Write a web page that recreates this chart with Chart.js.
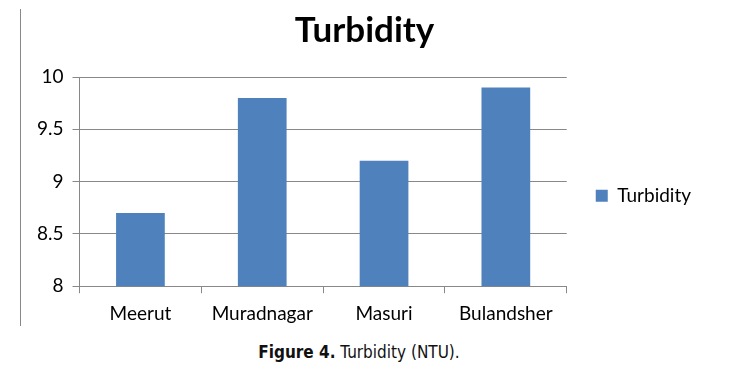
<!DOCTYPE html>
<html>
<head>
<meta charset="utf-8">
<script src="https://cdn.jsdelivr.net/npm/chart.js@4"></script>
<style>
  body { margin: 0; background: #fff; width: 734px; height: 391px; position: relative; overflow: hidden; }
  #frame { position: absolute; left: 20px; top: 9px; width: 1px; height: 317px; background: #888; }
  #wrap { position: absolute; left: 0; top: 0; width: 734px; height: 339px; }
  #caption { position: absolute; left: -8px; top: 342px; width: 734px; text-align: center;
    font-family: "Liberation Sans Narrow", "DejaVu Sans Condensed", sans-serif; font-size: 17px; color: #111; }
</style>
</head>
<body>
<div id="frame"></div>
<div id="wrap"><canvas id="myChart"></canvas></div>
<div id="caption"><b>Figure 4.</b> Turbidity (NTU).</div>
<script>
'use strict';
// chart data
var places = ['Meerut', 'Muradnagar', 'Masuri', 'Bulandsher'];
var turbidity = [8.7, 9.8, 9.2, 9.9];
var seriesName = 'Turbidity';
var yMin = 8;
var yMax = 10;
var yStep = 0.5;

var axisGrey = '#888888';
var fontName = 'Lato, "Open Sans", sans-serif';

var ctx = document.getElementById('myChart').getContext('2d');
var chart = new Chart(ctx, {
  type: 'bar',
  data: {
    labels: places,
    datasets: [{
      label: seriesName,
      backgroundColor: '#4F81BD',
      borderColor: '#4F81BD',
      borderWidth: 0,
      data: turbidity,
      barPercentage: 0.4,
      categoryPercentage: 1
    }]
  },
  options: {
    responsive: true,
    maintainAspectRatio: false,
    animation: false,
    layout: { padding: { left: 28, right: 33, top: 0, bottom: 5 } },
    plugins: {
      title: {
        display: true,
        text: 'Turbidity',
        color: '#000',
        font: { family: fontName, size: 35, weight: 'bold' },
        padding: { top: 10, bottom: 25 }
      },
      legend: {
        position: 'right',
        fullSize: false,
        // empty title only pushes the single entry down a little
        title: { display: true, text: '', padding: { top: 0, bottom: 14 } },
        labels: {
          color: '#000',
          boxWidth: 12,
          boxHeight: 12,
          padding: 29,
          font: { family: fontName, size: 19 }
        }
      },
      tooltip: { enabled: false }
    },
    scales: {
      x: {
        grid: { drawOnChartArea: false, drawTicks: true, tickLength: 7, color: axisGrey, offset: true },
        border: { color: axisGrey },
        ticks: { color: '#000', font: { family: fontName, size: 19 }, padding: 9 }
      },
      y: {
        min: yMin,
        max: yMax,
        grid: { color: axisGrey, tickLength: 7 },
        border: { color: axisGrey },
        ticks: {
          stepSize: yStep,
          color: '#000',
          padding: 9,
          font: { family: fontName, size: 19 },
          callback: function (value) { return String(value); }
        }
      }
    }
  }
});
</script>
</body>
</html>
